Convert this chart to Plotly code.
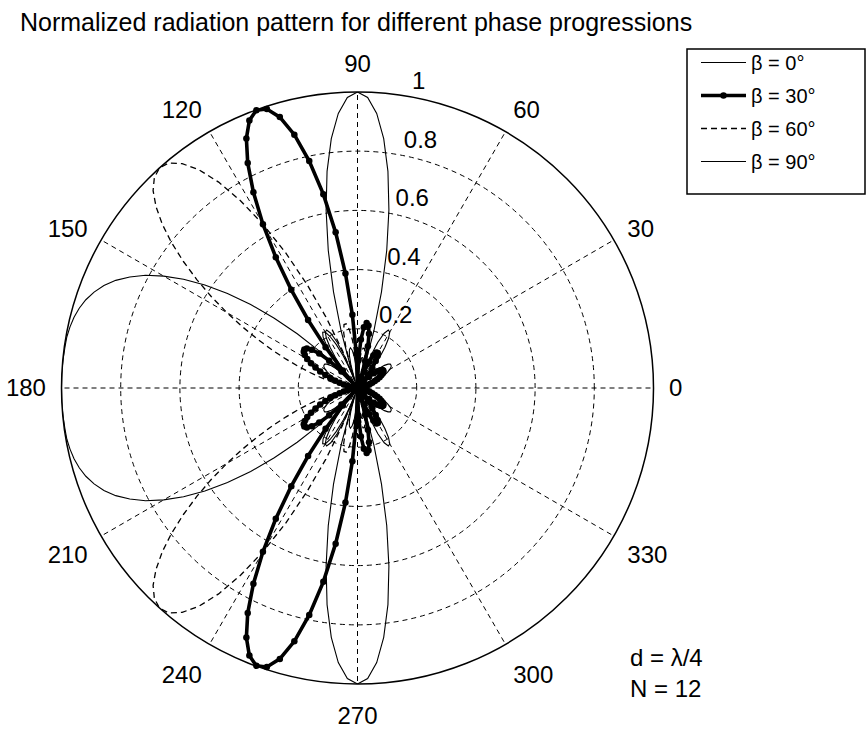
import plotly.graph_objects as go

TITLE = "Normalized radiation pattern for different phase progressions"
FONT = "Liberation Sans, Arial, Helvetica, sans-serif"

# Array-factor magnitude of the 12-element array, sampled every 2 degrees over
# the upper half-plane (0..180 deg). The pattern is rotationally symmetric
# about the array axis, so the lower half-plane shows the same values at 360 - theta.
THETA_UPPER = list(range(0, 181, 2))
THETA_LOWER = [360 - t for t in THETA_UPPER]

R_BETA_0 = [
    0, 0.001, 0.003, 0.006, 0.011, 0.017, 0.025, 0.033, 0.044, 0.055,
    0.067, 0.079, 0.092, 0.105, 0.116, 0.126, 0.134, 0.137, 0.137, 0.131,
    0.119, 0.100, 0.074, 0.042, 0.004, 0.039, 0.083, 0.127, 0.166, 0.198,
    0.218, 0.222, 0.206, 0.169, 0.109, 0.026, 0.079, 0.201, 0.335, 0.475,
    0.611, 0.739, 0.847, 0.930, 0.982, 1.000,
    0.982, 0.930, 0.847, 0.739, 0.611, 0.475, 0.335, 0.201, 0.079, 0.026,
    0.109, 0.169, 0.206, 0.222, 0.218, 0.198, 0.166, 0.127, 0.083, 0.039,
    0.004, 0.042, 0.074, 0.100, 0.119, 0.131, 0.137, 0.137, 0.134, 0.126,
    0.116, 0.105, 0.092, 0.079, 0.067, 0.055, 0.044, 0.033, 0.025, 0.017,
    0.011, 0.006, 0.003, 0.001, 0,
]

R_BETA_30 = [
    0, 0.001, 0.002, 0.005, 0.009, 0.014, 0.020, 0.027, 0.035, 0.044,
    0.053, 0.063, 0.073, 0.083, 0.091, 0.098, 0.103, 0.105, 0.104, 0.098,
    0.088, 0.074, 0.054, 0.030, 0.003, 0.027, 0.057, 0.085, 0.110, 0.128,
    0.137, 0.136, 0.122, 0.097, 0.060, 0.013, 0.039, 0.094, 0.145, 0.187,
    0.214, 0.222, 0.206, 0.164, 0.094, 0,
    0.116, 0.248, 0.389, 0.531, 0.665, 0.784, 0.882, 0.952, 0.991, 0.999,
    0.975, 0.923, 0.846, 0.749, 0.639, 0.521, 0.400, 0.284, 0.175, 0.077,
    0.007, 0.078, 0.133, 0.174, 0.201, 0.217, 0.222, 0.219, 0.210, 0.196,
    0.178, 0.158, 0.138, 0.117, 0.098, 0.079, 0.063, 0.048, 0.035, 0.024,
    0.016, 0.009, 0.004, 0.001, 0,
]

R_BETA_60 = [
    0, 0.000, 0.002, 0.004, 0.008, 0.012, 0.018, 0.024, 0.031, 0.039,
    0.047, 0.056, 0.064, 0.072, 0.079, 0.085, 0.089, 0.090, 0.089, 0.083,
    0.074, 0.062, 0.045, 0.025, 0.002, 0.022, 0.046, 0.068, 0.086, 0.099,
    0.105, 0.103, 0.091, 0.071, 0.043, 0.010, 0.027, 0.064, 0.097, 0.122,
    0.136, 0.136, 0.122, 0.093, 0.051, 0,
    0.057, 0.113, 0.163, 0.200, 0.220, 0.219, 0.193, 0.143, 0.068, 0.027,
    0.139, 0.263, 0.390, 0.518, 0.639, 0.746, 0.839, 0.911, 0.962, 0.992,
    1.000, 0.988, 0.960, 0.916, 0.861, 0.797, 0.727, 0.655, 0.582, 0.509,
    0.440, 0.375, 0.315, 0.260, 0.211, 0.167, 0.130, 0.097, 0.071, 0.048,
    0.031, 0.017, 0.008, 0.002, 0,
]

R_BETA_90 = [
    0, 0.000, 0.002, 0.004, 0.008, 0.012, 0.017, 0.023, 0.030, 0.037,
    0.045, 0.053, 0.061, 0.068, 0.075, 0.080, 0.083, 0.084, 0.082, 0.077,
    0.068, 0.056, 0.041, 0.022, 0.002, 0.019, 0.040, 0.060, 0.075, 0.086,
    0.090, 0.087, 0.077, 0.060, 0.036, 0.008, 0.022, 0.051, 0.076, 0.095,
    0.104, 0.103, 0.091, 0.068, 0.037, 0,
    0.039, 0.076, 0.107, 0.129, 0.138, 0.132, 0.113, 0.080, 0.037, 0.014,
    0.067, 0.118, 0.163, 0.197, 0.218, 0.222, 0.208, 0.177, 0.130, 0.067,
    0.008, 0.092, 0.182, 0.274, 0.367, 0.458, 0.543, 0.622, 0.693, 0.756,
    0.811, 0.856, 0.894, 0.924, 0.947, 0.965, 0.978, 0.987, 0.993, 0.997,
    0.998, 0.999, 1.000, 1.000, 1.000,
]

SERIES_NAMES = ["β = 0°", "β = 30°", "β = 60°", "β = 90°"]
SERIES_VALUES = [R_BETA_0, R_BETA_30, R_BETA_60, R_BETA_90]

ANGLE_TICKS = [0, 30, 60, 90, 120, 150, 180, 210, 240, 270, 300, 330]
ANGLE_LABELS = ["0", "30", "60", "90", "120", "150", "180", "210", "240", "270", "300", "330"]
RADIAL_TICKS = [0.2, 0.4, 0.6, 0.8, 1.0]
RADIAL_LABELS = ["0.2", "0.4", "0.6", "0.8", "1"]

NOTE_LINES = ["d = λ/4", "N = 12"]

W, H = 867, 729
CX, CY, RAD = 357.5, 388.0, 296.0
NBSP = "\u00a0"

styles = [
    dict(line=dict(color="black", width=1.1), mode="lines"),
    dict(line=dict(color="black", width=3.6), mode="lines+markers",
         marker=dict(symbol="circle", size=6.5, color="black")),
    dict(line=dict(color="black", width=1.3, dash="6px,4px"), mode="lines"),
    dict(line=dict(color="black", width=1.1), mode="lines"),
]

fig = go.Figure()

for name, values, st in zip(SERIES_NAMES, SERIES_VALUES, styles):
    for half, theta in enumerate((THETA_UPPER, THETA_LOWER)):
        fig.add_trace(go.Scatterpolar(
            r=values, theta=theta, name=name, legendgroup=name,
            showlegend=(half == 0), hoverinfo="skip", **st,
        ))

# radius labels along the 82 degree spoke
fig.add_trace(go.Scatterpolar(
    r=RADIAL_TICKS, theta=[82] * len(RADIAL_TICKS),
    text=[NBSP * 2 + s for s in RADIAL_LABELS], mode="text",
    textposition="top right", cliponaxis=False,
    textfont=dict(size=24, color="black", family=FONT),
    showlegend=False, hoverinfo="skip",
))

fig.update_layout(
    width=W, height=H,
    margin=dict(l=0, r=0, t=0, b=0),
    paper_bgcolor="white",
    font=dict(family=FONT, color="black", size=24),
    title=dict(text=TITLE, x=20 / W, xanchor="left", y=1 - 22 / H, yanchor="middle",
               font=dict(size=25, family=FONT, color="black")),
    polar=dict(
        domain=dict(x=[(CX - RAD) / W, (CX + RAD) / W],
                    y=[(H - CY - RAD) / H, (H - CY + RAD) / H]),
        bgcolor="white",
        radialaxis=dict(range=[0, 1], tickvals=RADIAL_TICKS[:-1], showticklabels=False,
                        ticks="", showline=False, gridcolor="black", gridwidth=1,
                        griddash="5px,4px"),
        angularaxis=dict(rotation=0, direction="counterclockwise",
                         tickvals=ANGLE_TICKS, ticktext=ANGLE_LABELS,
                         showticklabels=True, ticks="outside", ticklen=10,
                         tickcolor="rgba(0,0,0,0)",
                         tickfont=dict(size=24, family=FONT, color="black"),
                         showline=True, linecolor="black", linewidth=1.5,
                         gridcolor="black", gridwidth=1, griddash="5px,4px"),
    ),
    legend=dict(x=696 / W, y=1 - 43 / H, xanchor="left", yanchor="top",
                bgcolor="rgba(0,0,0,0)", borderwidth=0, tracegroupgap=4,
                font=dict(size=20, family=FONT, color="black"), itemwidth=45),
    shapes=[dict(type="rect", xref="paper", yref="paper",
                 x0=687 / W, x1=865 / W, y0=1 - 194 / H, y1=1 - 49 / H,
                 line=dict(color="black", width=1.5), fillcolor="white", layer="below")],
    annotations=[dict(text="<br>".join(NOTE_LINES), xref="paper", yref="paper",
                      x=628 / W, y=1 - 673 / H, xanchor="left", yanchor="middle",
                      align="left", showarrow=False,
                      font=dict(size=24, family=FONT, color="black"))],
)

fig.write_html("out.html")
